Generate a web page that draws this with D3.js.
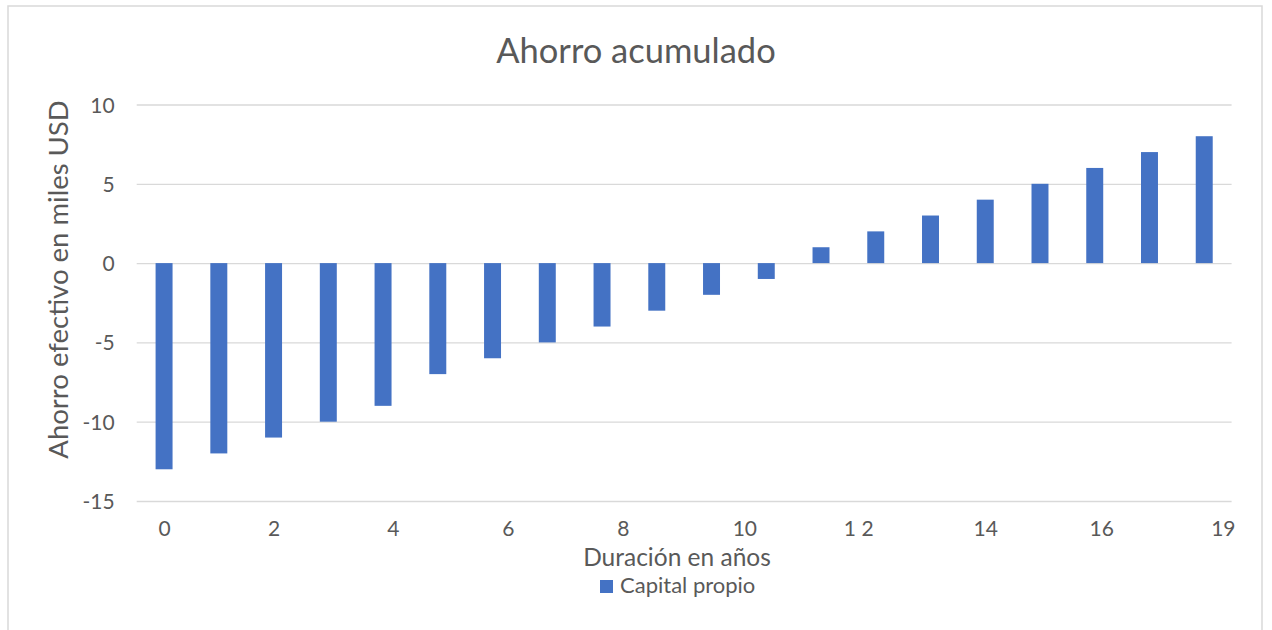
<!DOCTYPE html>
<html>
<head>
<meta charset="utf-8">
<script src="https://cdn.jsdelivr.net/npm/d3@7"></script>
<style>
  html, body { margin: 0; padding: 0; background: #ffffff; }
  svg { display: block; }
  text { font-family: Lato, "Open Sans", sans-serif; fill: #595959; }
</style>
</head>
<body>
<svg id="chart" width="1272" height="630"></svg>
<script>
// Accumulated savings by year (thousands of USD)
const years = [0, 1, 2, 3, 4, 5, 6, 7, 8, 9, 10, 11, 12, 13, 14, 15, 16, 17, 18, 19];
const capitalPropio = [-13, -12, -11, -10, -9, -7, -6, -5, -4, -3, -2, -1, 1, 2, 3, 4, 5, 6, 7, 8];

// Value-axis ticks
const yTicks = [-15, -10, -5, 0, 5, 10];

// Category-axis labels and where they sit, in year-slot units
const xTickLabels = ["0", "2", "4", "6", "8", "10", "1 2", "14", "16", "19"];
const xTickSlots = [0, 2, 4.18, 6.28, 8.38, 10.6, 12.68, 15, 17.12, 19.34];

const titleText = "Ahorro acumulado";
const xTitleText = "Duración en años";
const yTitleText = "Ahorro efectivo en miles USD";
const seriesName = "Capital propio";
const barColor = "#4472C4";

const svg = d3.select("#chart");
const plot = { left: 136.7, right: 1231.6, top: 104.5, bottom: 501 };
const tickFont = "21px";

// Outer chart frame
svg.append("rect")
  .attr("x", 8).attr("y", 6)
  .attr("width", 1254).attr("height", 640)
  .attr("fill", "#ffffff")
  .attr("stroke", "#d9d9d9")
  .attr("stroke-width", 1.5);

const x = d3.scaleBand()
  .domain(years)
  .range([plot.left, plot.right])
  .paddingInner(0.69)
  .paddingOuter(0.345);

const y = d3.scaleLinear()
  .domain([d3.min(yTicks), d3.max(yTicks)])
  .range([plot.bottom, plot.top]);

// Slot index -> pixel centre, used for the category labels
const slot = d3.scaleLinear()
  .domain([0, years.length - 1])
  .range([x(years[0]) + x.bandwidth() / 2, x(years[years.length - 1]) + x.bandwidth() / 2]);

// Horizontal gridlines with value labels (plain hyphen for negatives)
const yAxis = d3.axisLeft(y)
  .tickValues(yTicks)
  .tickSize(-(plot.right - plot.left))
  .tickPadding(22)
  .tickFormat(d => String(d));

const gy = svg.append("g")
  .attr("transform", `translate(${plot.left},0)`)
  .call(yAxis);
gy.select(".domain").remove();
gy.selectAll(".tick line").attr("stroke", "#d9d9d9").attr("stroke-width", 1.3);
gy.selectAll(".tick text")
  .attr("fill", "#595959")
  .style("font-size", tickFont)
  .style("font-family", "Lato, 'Open Sans', sans-serif")
  .attr("dy", "0.36em");

// Bars
svg.append("g")
  .selectAll("rect")
  .data(years.map((yr, i) => ({ yr, v: capitalPropio[i] })))
  .join("rect")
  .attr("x", d => x(d.yr))
  .attr("width", x.bandwidth())
  .attr("y", d => y(Math.max(0, d.v)))
  .attr("height", d => Math.abs(y(d.v) - y(0)))
  .attr("fill", barColor);

// Category labels
const xAxis = d3.axisBottom(slot)
  .tickValues(xTickSlots)
  .tickSize(0)
  .tickPadding(20)
  .tickFormat((d, i) => xTickLabels[i]);

const gx = svg.append("g")
  .attr("transform", `translate(0,${plot.bottom})`)
  .call(xAxis);
gx.select(".domain").remove();
gx.selectAll(".tick text")
  .attr("fill", "#595959")
  .style("font-size", tickFont)
  .style("font-family", "Lato, 'Open Sans', sans-serif");

// Titles
svg.append("text")
  .attr("x", 636).attr("y", 63)
  .attr("text-anchor", "middle")
  .style("font-size", "34.5px")
  .text(titleText);

svg.append("text")
  .attr("x", 677).attr("y", 566)
  .attr("text-anchor", "middle")
  .style("font-size", "24.5px")
  .text(xTitleText);

svg.append("text")
  .attr("transform", `translate(68,${(97 + 462) / 2}) rotate(-90)`)
  .attr("text-anchor", "middle")
  .style("font-size", "27.5px")
  .text(yTitleText);

// Legend
const legend = svg.append("g").attr("transform", "translate(600,580)");
legend.append("rect")
  .attr("width", 13).attr("height", 13)
  .attr("fill", barColor);
legend.append("text")
  .attr("x", 20).attr("y", 13)
  .style("font-size", "22px")
  .text(seriesName);
</script>
</body>
</html>
